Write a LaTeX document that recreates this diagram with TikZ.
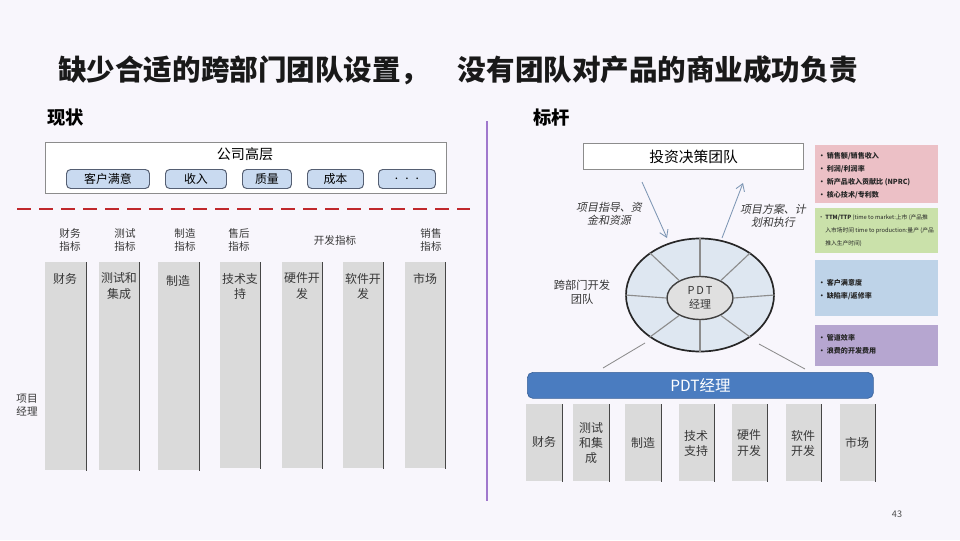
\documentclass[tikz,border=0pt]{standalone}
\usepackage{fontspec}
\setmainfont{Noto Sans CJK SC}
\newfontfamily\cjkslant{Noto Sans CJK SC}[FakeSlant=0.2]
\usetikzlibrary{positioning,arrows.meta,shapes.geometric}
\newcommand{\pu}{0.025cm}
\definecolor{bgcol}{RGB}{248,246,252}
\definecolor{colgray}{RGB}{218,218,218}
\definecolor{edgegray}{RGB}{70,70,70}
\definecolor{pillblue}{RGB}{201,218,240}
\definecolor{pilledge}{RGB}{85,95,115}
\definecolor{dashred}{RGB}{192,40,44}
\definecolor{barblue}{RGB}{74,124,192}
\definecolor{ringblue}{RGB}{222,231,241}
\definecolor{hubgray}{RGB}{224,224,224}
\definecolor{kpired}{RGB}{236,192,198}
\definecolor{kpigreen}{RGB}{202,225,170}
\definecolor{kpiblue}{RGB}{190,211,232}
\definecolor{kpipurple}{RGB}{182,166,208}
\definecolor{divider}{RGB}{160,120,205}
\definecolor{arrowblue}{RGB}{125,150,180}
\definecolor{txtgray}{RGB}{55,55,55}
\tikzset{
  colbox/.style={fill=colgray, inner sep=0, anchor=north west},
  coltext/.style={font=\fontsize{8.5}{10.7}\selectfont, align=center, text=txtgray},
  kpilabel/.style={font=\fontsize{7.5}{9.8}\selectfont, align=center, text=txtgray},
  pill/.style={draw=pilledge, fill=pillblue, line width=0.7pt, rounded corners=3pt,
    inner sep=0, minimum height=19*\pu, anchor=north west, font=\fontsize{8.5}{9}\selectfont},
  kpibox/.style={inner sep=0, anchor=north west, minimum width=123*\pu},
  kpitext/.style={font=\bfseries\fontsize{5}{9.3}\selectfont, align=left, anchor=north west, inner sep=0, text=black!85},
  thinlink/.style={draw=black!45, line width=0.6pt},
  planarrow/.style={draw=arrowblue, line width=0.6pt, -{Straight Barb[length=7*\pu,width=9*\pu]}},
}
\begin{document}
\begin{tikzpicture}[x=\pu,y=-\pu]
\useasboundingbox (0,0) rectangle (960,540);
\fill[bgcol] (0,0) rectangle (960,540);
% title and headings
\node[font=\bfseries\fontsize{20.3}{21}\selectfont, text=black!90] (title) at (458,70) {缺少合适的跨部门团队设置，\quad 没有团队对产品的商业成功负责};
\node[font=\bfseries\fontsize{13}{14}\selectfont, anchor=west, inner sep=0] (now) at (47,118) {现状};
\node[font=\bfseries\fontsize{13}{14}\selectfont, anchor=west, inner sep=0] (bench) at (533,118) {标杆};
\draw[divider, line width=1.5pt] (487,121) -- (487,501);
% left: company top
\node[draw=black!45, fill=white, line width=0.8pt, inner sep=0, anchor=north west, minimum width=401*\pu, minimum height=51*\pu] (top) at (45,142) {};
\node[font=\fontsize{10}{11}\selectfont] (toptxt) at (245,154) {公司高层};
\node[pill, minimum width=83*\pu] (p1) at (66,169) {客户满意};
\node[pill, minimum width=61*\pu] (p2) at (165,169) {收入};
\node[pill, minimum width=49*\pu] (p3) at (242,169) {质量};
\node[pill, minimum width=56*\pu] (p4) at (307,169) {成本};
\node[pill, minimum width=57*\pu] (p5) at (378,169) {\raisebox{-1.5pt}{.\hspace{5pt}.\hspace{5pt}.}};
\draw[dashred, line width=2pt, dash pattern=on 14*\pu off 8*\pu] (17,209) -- (470,209);
% left: metric labels
\node[kpilabel] (m1) at (70,240) {财务\\指标};
\node[kpilabel] (m2) at (125,240) {测试\\指标};
\node[kpilabel] (m3) at (185,240) {制造\\指标};
\node[kpilabel] (m4) at (239,240) {售后\\指标};
\node[kpilabel] (m5) at (335,240) {开发指标};
\node[kpilabel] (m6) at (431,240) {销售\\指标};
% left: functional columns
\node[colbox, minimum width=41*\pu, minimum height=208*\pu] (c1) at (45,262) {};
\node[colbox, minimum width=40*\pu, minimum height=208*\pu] (c2) at (99,262) {};
\node[colbox, minimum width=41*\pu, minimum height=208*\pu] (c3) at (158,262) {};
\node[colbox, minimum width=40*\pu, minimum height=206*\pu] (c4) at (220,262) {};
\node[colbox, minimum width=40*\pu, minimum height=206*\pu] (c5) at (282,262) {};
\node[colbox, minimum width=40*\pu, minimum height=206*\pu] (c6) at (343,262) {};
\node[colbox, minimum width=40*\pu, minimum height=206*\pu] (c7) at (405,262) {};
\foreach \c in {c1,c2,c3,c4,c5,c6,c7}
  \draw[edgegray, line width=1.1pt] (\c.north east) -- (\c.south east);
\node[coltext, anchor=north] (c1t) at (65,268) {财务};
\node[coltext, anchor=north] (c2t) at (119,268) {测试和\\集成};
\node[coltext, anchor=north] (c3t) at (178,270) {制造};
\node[coltext, anchor=north] (c4t) at (240,268) {技术支\\持};
\node[coltext, anchor=north] (c5t) at (302,268) {硬件开\\发};
\node[coltext, anchor=north] (c6t) at (363,268) {软件开\\发};
\node[coltext, anchor=north] (c7t) at (425,268) {市场};
\node[kpilabel] (pm) at (27,405) {项目\\经理};
% right: investment team
\node[draw=black!45, fill=white, line width=0.8pt, inner sep=0, anchor=north west, minimum width=220*\pu, minimum height=26*\pu, font=\fontsize{10.5}{11}\selectfont] (ibt) at (583,143) {投资决策团队};
\coordinate (a1s) at (642,182);
\coordinate (a1e) at (667,238);
\coordinate (a2s) at (722,238);
\coordinate (a2e) at (743,183);
\draw[planarrow] (a1s) -- (a1e);
\draw[planarrow] (a2s) -- (a2e);
\node[kpilabel, font=\cjkslant\fontsize{7.8}{9.2}\selectfont] (guide) at (609,214) {项目指导、资\\金和资源};
\node[kpilabel, font=\cjkslant\fontsize{7.8}{9.2}\selectfont] (plan) at (773,216) {项目方案、计\\划和执行};
% right: cross-functional team ring
\node[ellipse, draw=black!85, fill=ringblue, line width=1.2pt, minimum width=148*\pu, minimum height=113*\pu, inner sep=0] (ring) at (700,295) {};
\node[ellipse, draw=black!75, fill=hubgray, line width=1pt, minimum width=66*\pu, minimum height=43*\pu, inner sep=0] (hub) at (700,298) {};
\foreach \a in {0,40,90,140,180,220,270,320}
  \draw[black!45, line width=0.8pt] (hub.\a) -- (ring.\a);
\node[coltext, font=\fontsize{7.8}{9.8}\selectfont] (hubt) at (700,298) {P\,D\,T\\经理};
\node[kpilabel, font=\fontsize{8}{10}\selectfont] (xft) at (582,292) {跨部门开发\\团队};
\coordinate (l1s) at (645,343);
\coordinate (l1e) at (603,368);
\coordinate (l2s) at (759,344);
\coordinate (l2e) at (805,369);
\draw[thinlink] (l1s) -- (l1e);
\draw[thinlink] (l2s) -- (l2e);
\node[fill=barblue, draw=barblue!80!black, line width=0.5pt, rounded corners=4pt, inner sep=0, anchor=north west, minimum width=346*\pu, minimum height=26*\pu, text=white, font=\fontsize{11}{12}\selectfont] (bar) at (527,372) {PDT经理};
% right: functional columns
\node[colbox, minimum width=36*\pu, minimum height=77*\pu] (r1) at (526,404) {};
\node[colbox, minimum width=36*\pu, minimum height=77*\pu] (r2) at (573,404) {};
\node[colbox, minimum width=36*\pu, minimum height=77*\pu] (r3) at (625,404) {};
\node[colbox, minimum width=35*\pu, minimum height=77*\pu] (r4) at (679,404) {};
\node[colbox, minimum width=35*\pu, minimum height=77*\pu] (r5) at (732,404) {};
\node[colbox, minimum width=35*\pu, minimum height=77*\pu] (r6) at (786,404) {};
\node[colbox, minimum width=35*\pu, minimum height=77*\pu] (r7) at (840,404) {};
\foreach \c in {r1,r2,r3,r4,r5,r6,r7}
  \draw[edgegray, line width=1.1pt] (\c.north east) -- (\c.south east);
\node[coltext] (r1t) at (544,442) {财务};
\node[coltext] (r2t) at (591,443) {测试\\和集\\成};
\node[coltext] (r3t) at (643,443) {制造};
\node[coltext] (r4t) at (696,443) {技术\\支持};
\node[coltext] (r5t) at (749,443) {硬件\\开发};
\node[coltext] (r6t) at (803,443) {软件\\开发};
\node[coltext] (r7t) at (857,443) {市场};
% right: kpi boxes
\node[kpibox, fill=kpired, minimum height=58*\pu] (k1) at (815,145) {};
\node[kpibox, fill=kpigreen, minimum height=45*\pu] (k2) at (815,208) {};
\node[kpibox, fill=kpiblue, minimum height=56*\pu] (k3) at (815,260) {};
\node[kpibox, fill=kpipurple, minimum height=41*\pu] (k4) at (815,325) {};
\node[kpitext] (k1t) at (818,152) {•\ 销售额/销售收入\\•\ 利润/利润率\\•\ 新产品收入贡献比 (NPRC)\\•\ 核心技术/专利数};
\node[kpitext, font=\fontsize{4.1}{9.3}\selectfont] (k2t) at (818,214) {•\ \textbf{TTM/TTP} (time to market:上市 (产品推\\\phantom{•\ }入市场时间 time to production:量产 (产品\\\phantom{•\ }推入生产时间)};
\node[kpitext] (k3t) at (818,279) {•\ 客户满意度\\•\ 缺陷率/返修率};
\node[kpitext] (k4t) at (818,334) {•\ 管道效率\\•\ 浪费的开发费用};
\node[font=\fontsize{6.5}{7}\selectfont, text=black!70] (page) at (897,514) {43};
\end{tikzpicture}
\end{document}
